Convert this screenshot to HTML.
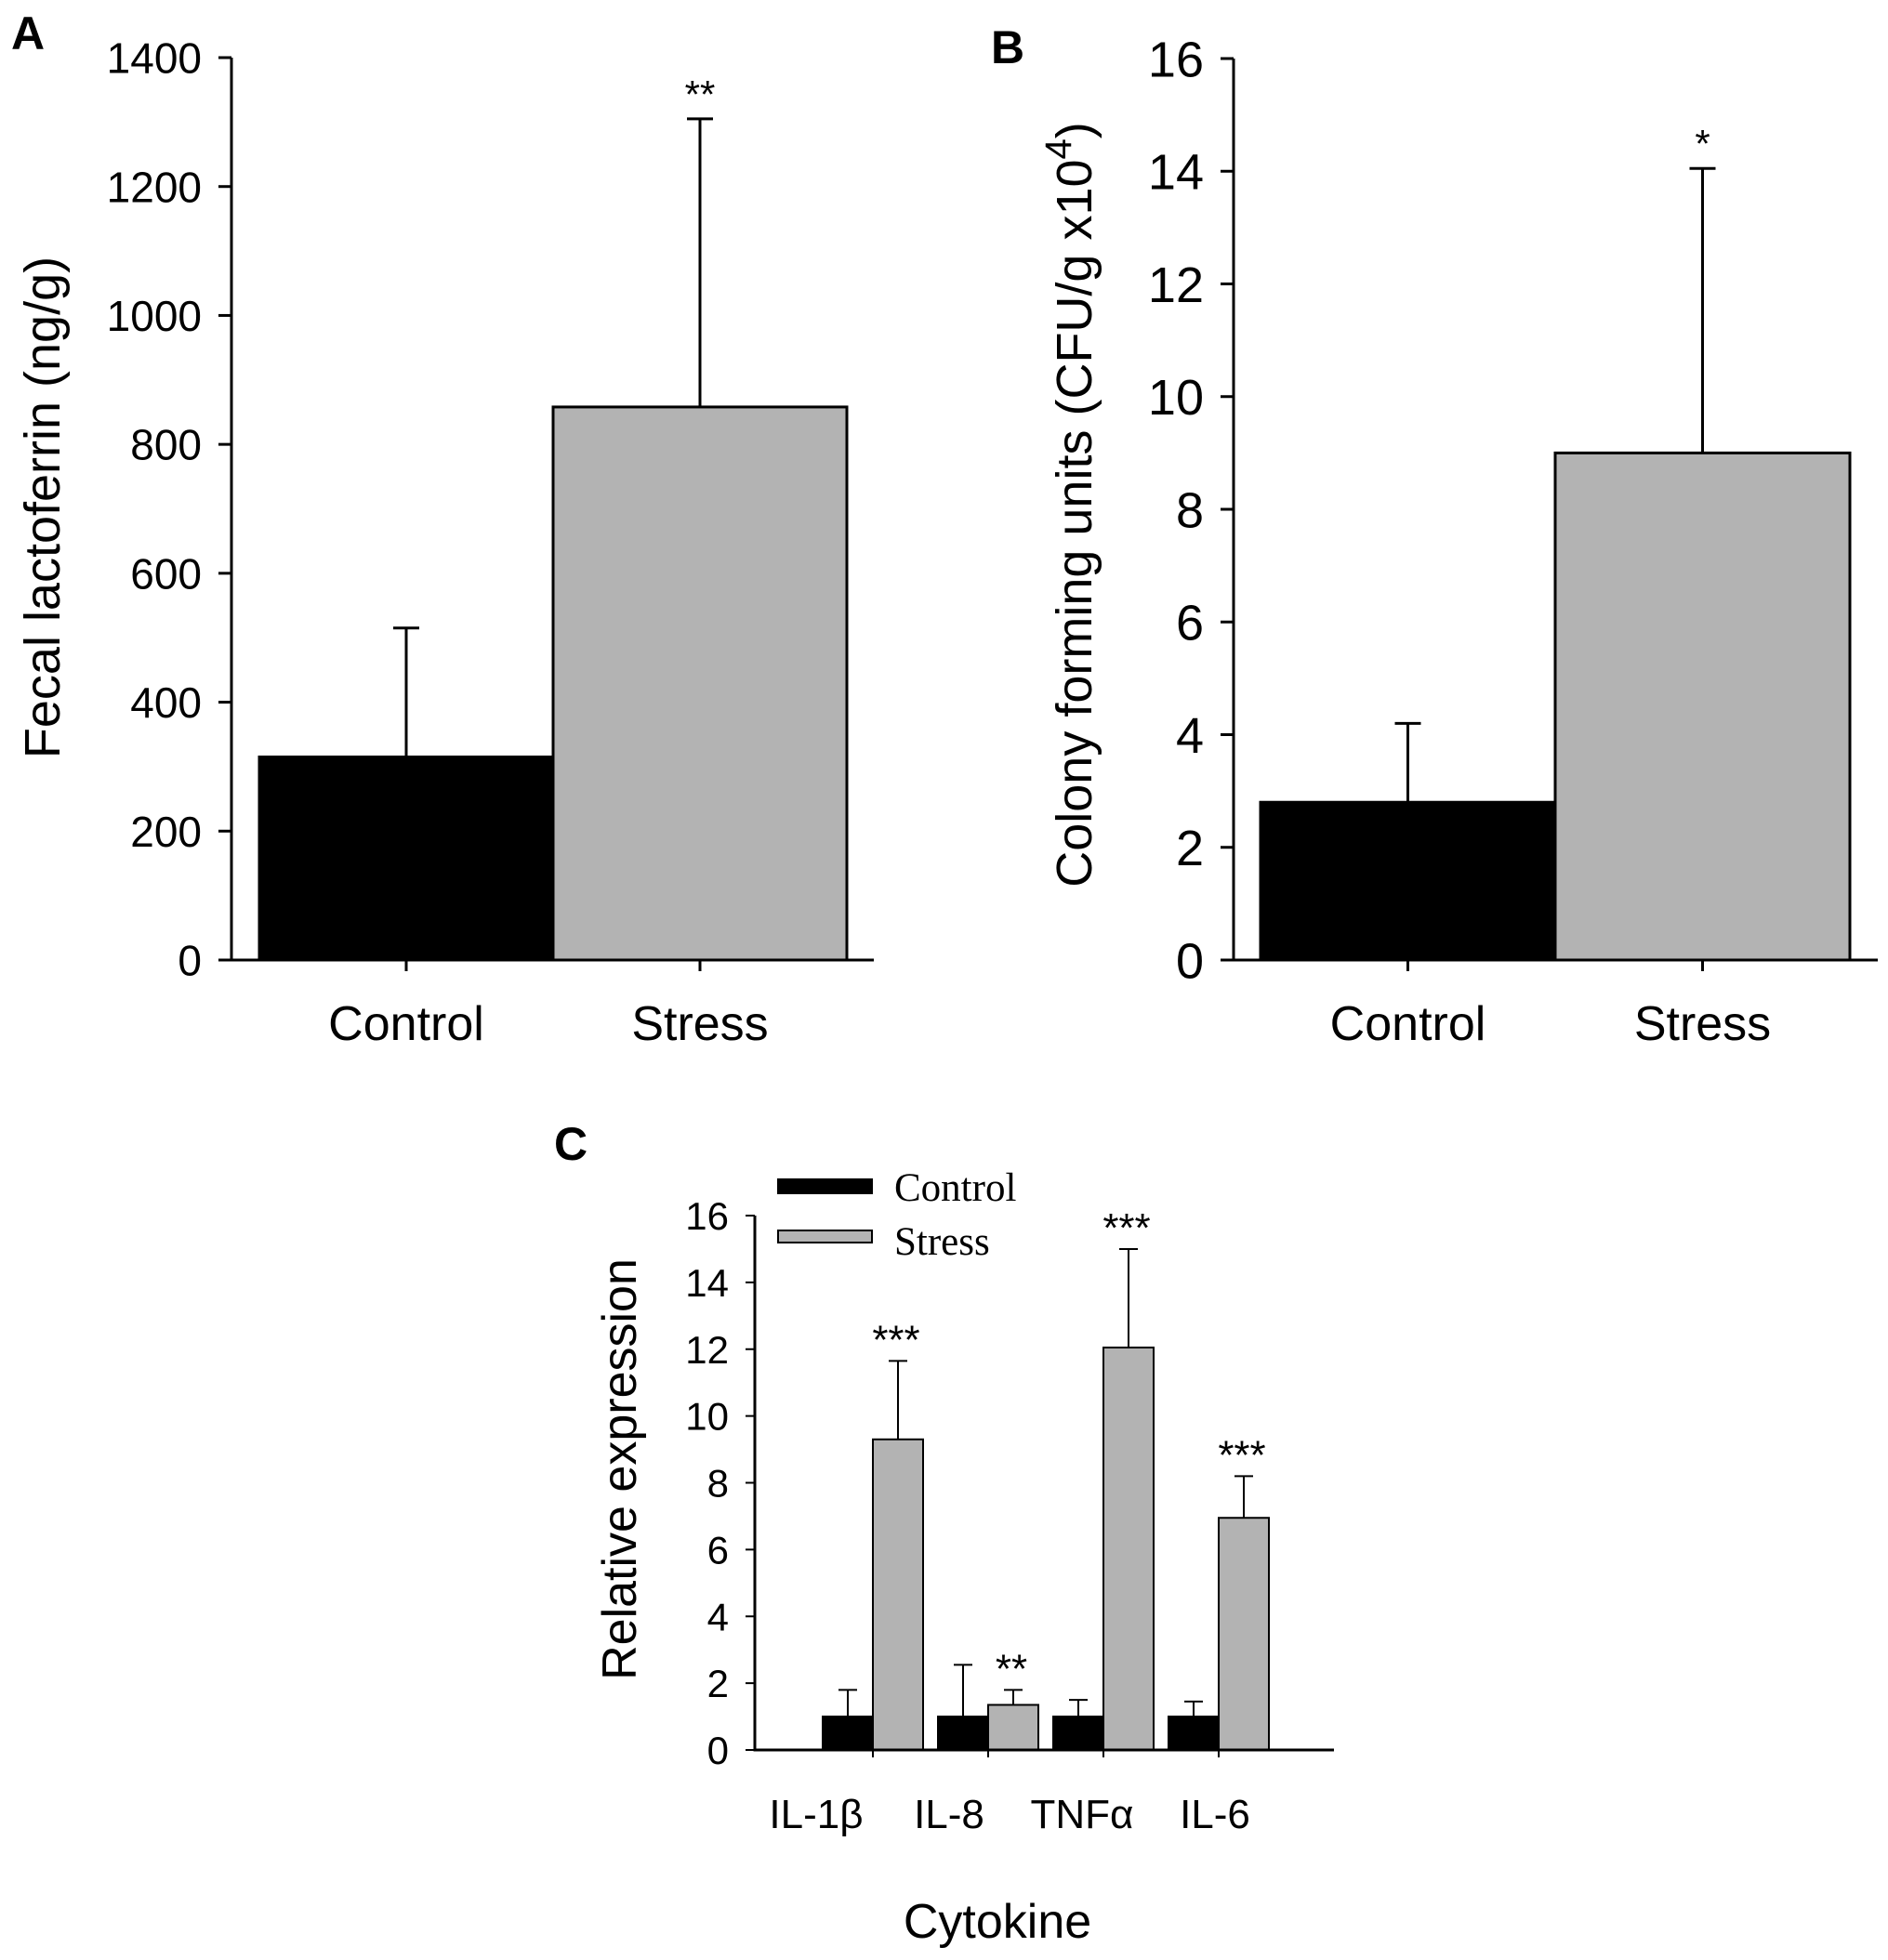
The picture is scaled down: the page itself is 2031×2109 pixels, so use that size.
<!DOCTYPE html>
<html><head><meta charset="utf-8"><style>
html,body{margin:0;padding:0;background:#fff;}
svg{display:block;}
text{font-family:"Liberation Sans",Arial,sans-serif;fill:#000;}
.serif{font-family:"Liberation Serif","Times New Roman",serif;}
</style></head><body>
<svg id="fig" width="2031" height="2109" viewBox="0 0 2031 2109" xmlns="http://www.w3.org/2000/svg"></svg>
<script>
// Panel A data
const aCategories = ["Control", "Stress"];
const aValues = [315, 858];
const aErrTops = [515, 1305];
const aTicks = [0, 200, 400, 600, 800, 1000, 1200, 1400];
const aStars = ["", "**"];
// Panel B data
const bCategories = ["Control", "Stress"];
const bValues = [2.8, 9.0];
const bErrTops = [4.2, 14.05];
const bTicks = [0, 2, 4, 6, 8, 10, 12, 14, 16];
const bStars = ["", "*"];
// Panel C data
const cCategories = ["IL-1β", "IL-8", "TNFα", "IL-6"];
const cControl = [1, 1, 1, 1];
const cControlErr = [1.8, 2.55, 1.5, 1.45];
const cStress = [9.3, 1.35, 12.05, 6.95];
const cStressErr = [11.65, 1.8, 15.0, 8.2];
const cTicks = [0, 2, 4, 6, 8, 10, 12, 14, 16];
const cStars = ["***", "**", "***", "***"];

const NS = "http://www.w3.org/2000/svg";
const svg = document.getElementById("fig");
function el(tag, attrs, parent) {
  const e = document.createElementNS(NS, tag);
  for (const k in attrs) e.setAttribute(k, attrs[k]);
  (parent || svg).appendChild(e);
  return e;
}
function txt(s, attrs, parent) { const t = el("text", attrs, parent); t.textContent = s; return t; }

function twoBarPanel(o) {
  const g = el("g", {});
  
  
  const y = v => o.y0 - (v - 0) / o.max * (o.y0 - o.yTop);
  o.values.forEach((v, i) => {
    const x0 = o.barStart + i * o.barW;
    const r = el("rect", {x: x0, y: y(v), width: o.barW, height: o.y0 - y(v), fill: i === 0 ? "#000" : "#b3b3b3", stroke: "#000", "stroke-width": 3}, g);
    
    
    const cx = x0 + o.barW / 2;
    const eb = el("path", {d: `M${cx},${y(v)}V${y(o.errs[i])}M${cx-14},${y(o.errs[i])}H${cx+14}`, stroke: "#000", "stroke-width": 3, fill: "none"}, g);
    
    
    if (o.stars[i]) {
      const st = txt(o.stars[i], {x: cx, y: y(o.errs[i]) - 12, "text-anchor": "middle", "font-size": 42}, g);
      
      
    }
    el("line", {x1: cx, x2: cx, y1: o.y0, y2: o.y0 + 12, stroke: "#000", "stroke-width": 3}, g);
    const lb = txt(o.cats[i], {x: cx, y: o.y0 + 86, "text-anchor": "middle", "font-size": 52}, g);
    
    
  });
  const ax = el("path", {d: `M${o.ax},${o.yTop}V${o.y0}H${o.xEnd}`, stroke: "#000", "stroke-width": 3, fill: "none"}, g);
  
  
  o.ticks.forEach(t => {
    el("line", {x1: o.ax - 14, x2: o.ax, y1: y(t), y2: y(t), stroke: "#000", "stroke-width": 3}, g);
    const tl = txt(String(t), {x: o.ax - 32, y: y(t) + o.tickFs * 0.36, "text-anchor": "end", "font-size": o.tickFs}, g);
    
    
  });
  return g;
}

twoBarPanel({name: "panel-a", cats: aCategories, values: aValues, errs: aErrTops, ticks: aTicks, stars: aStars, max: 1400,
  ax: 249, y0: 1033, yTop: 62, xEnd: 940, barStart: 279, barW: 316, tickFs: 46});
twoBarPanel({name: "panel-b", cats: bCategories, values: bValues, errs: bErrTops, ticks: bTicks, stars: bStars, max: 16,
  ax: 1327, y0: 1033, yTop: 63, xEnd: 2020, barStart: 1356, barW: 317, tickFs: 54});

let t;
t = txt("Fecal lactoferrin (ng/g)", {x: 0, y: 0, transform: "translate(64,546) rotate(-90)", "text-anchor": "middle", "font-size": 54});
 
t = el("text", {x: 0, y: 0, transform: "translate(1174,543) rotate(-90)", "text-anchor": "middle", "font-size": 54});
t.innerHTML = 'Colony forming units (CFU/g x10<tspan dy="-22" font-size="40">4</tspan><tspan dy="22">)</tspan>';
 
t = txt("A", {x: 12, y: 53, "font-size": 50, "font-weight": "bold"});
 
t = txt("B", {x: 1066, y: 68, "font-size": 50, "font-weight": "bold"});
 
t = txt("C", {x: 596, y: 1248, "font-size": 50, "font-weight": "bold"});
 

// Panel C
(function(){
  const g = el("g", {});
  
  
  const ax = 812, y0 = 1883, yTop = 1308, xEnd = 1435, gStart = 885, bw = 54, pitch = 124, max = 16;
  const y = v => y0 - v / max * (y0 - yTop);
  cCategories.forEach((c, i) => {
    const x0 = gStart + i * pitch;
    [[cControl, cControlErr, "#000", "control"], [cStress, cStressErr, "#b3b3b3", "stress"]].forEach((s, j) => {
      const bx = x0 + j * bw, v = s[0][i], e = s[1][i], cx = bx + bw / 2;
      const r = el("rect", {x: bx, y: y(v), width: bw, height: y0 - y(v), fill: s[2], stroke: "#000", "stroke-width": 2}, g);
      
      
      const eb = el("path", {d: `M${cx},${y(v)}V${y(e)}M${cx-10},${y(e)}H${cx+10}`, stroke: "#000", "stroke-width": 2, fill: "none"}, g);
      
      
      if (j === 1) {
        const st = txt(cStars[i], {x: cx - 2, y: y(e) - 8, "text-anchor": "middle", "font-size": 44}, g);
        
        
      }
    });
    el("line", {x1: x0 + bw, x2: x0 + bw, y1: y0, y2: y0 + 8, stroke: "#000", "stroke-width": 2}, g);
    const lb = el("text", {x: gStart + i * (pitch + 19) - 7, y: y0 + 84, "text-anchor": "middle", "font-size": 44}, g);
    lb.textContent = c;
    
    
  });
  const axp = el("path", {d: `M${ax},${yTop}V${y0}H${xEnd}`, stroke: "#000", "stroke-width": 3, fill: "none"}, g);
  
  
  cTicks.forEach(tk => {
    el("line", {x1: ax - 10, x2: ax, y1: y(tk), y2: y(tk), stroke: "#000", "stroke-width": 2}, g);
    const tl = txt(String(tk), {x: ax - 28, y: y(tk) + 15, "text-anchor": "end", "font-size": 42}, g);
    
    
  });
  let tt = txt("Relative expression", {x: 0, y: 0, transform: "translate(684,1581) rotate(-90)", "text-anchor": "middle", "font-size": 52}, g);
   
  tt = txt("Cytokine", {x: 1073, y: 2085, "text-anchor": "middle", "font-size": 52}, g);
   
  const lg = el("g", {}, g);
  
  
  el("rect", {x: 837, y: 1269, width: 101, height: 15, fill: "#000", stroke: "#000", "stroke-width": 2}, lg);
  el("rect", {x: 837, y: 1324, width: 101, height: 13, fill: "#b3b3b3", stroke: "#000", "stroke-width": 2}, lg);
  let l1 = txt("Control", {x: 962, y: 1292, "font-size": 43, class: "serif"}, lg);
   
  let l2 = txt("Stress", {x: 962, y: 1350, "font-size": 43, class: "serif"}, lg);
   
})();
</script>
</body></html>
